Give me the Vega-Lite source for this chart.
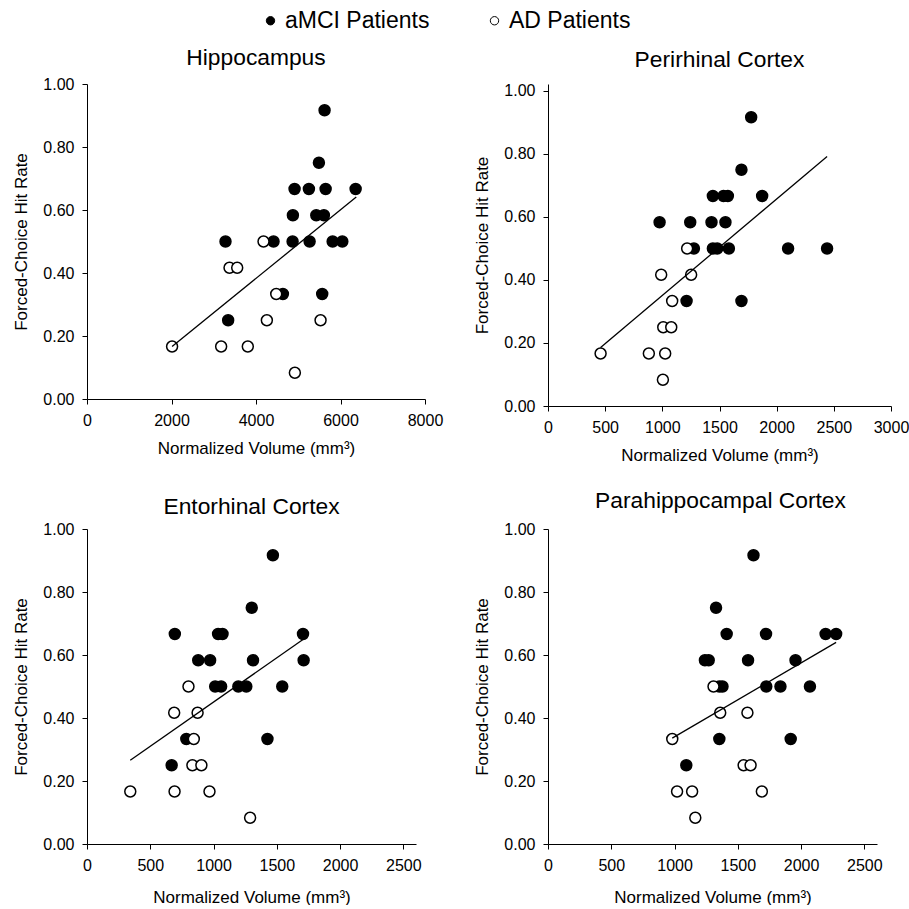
{
  "$schema": "https://vega.github.io/schema/vega-lite/v6.json",
  "background": "white",
  "padding": {"left": 12, "top": 9, "right": 5, "bottom": 0},
  "datasets": {
    "points": [
      {"region": "Hippocampus", "group": "aMCI Patients", "volume": 5623, "rate": 0.9167},
      {"region": "Hippocampus", "group": "aMCI Patients", "volume": 5489, "rate": 0.75},
      {"region": "Hippocampus", "group": "aMCI Patients", "volume": 4913, "rate": 0.6667},
      {"region": "Hippocampus", "group": "aMCI Patients", "volume": 5252, "rate": 0.6667},
      {"region": "Hippocampus", "group": "aMCI Patients", "volume": 5648, "rate": 0.6667},
      {"region": "Hippocampus", "group": "aMCI Patients", "volume": 6358, "rate": 0.6667},
      {"region": "Hippocampus", "group": "aMCI Patients", "volume": 4873, "rate": 0.5833},
      {"region": "Hippocampus", "group": "aMCI Patients", "volume": 5427, "rate": 0.5833},
      {"region": "Hippocampus", "group": "aMCI Patients", "volume": 5607, "rate": 0.5833},
      {"region": "Hippocampus", "group": "aMCI Patients", "volume": 3278, "rate": 0.5},
      {"region": "Hippocampus", "group": "aMCI Patients", "volume": 4415, "rate": 0.5},
      {"region": "Hippocampus", "group": "aMCI Patients", "volume": 4866, "rate": 0.5},
      {"region": "Hippocampus", "group": "aMCI Patients", "volume": 5269, "rate": 0.5},
      {"region": "Hippocampus", "group": "aMCI Patients", "volume": 5814, "rate": 0.5},
      {"region": "Hippocampus", "group": "aMCI Patients", "volume": 6043, "rate": 0.5},
      {"region": "Hippocampus", "group": "aMCI Patients", "volume": 4636, "rate": 0.3333},
      {"region": "Hippocampus", "group": "aMCI Patients", "volume": 5567, "rate": 0.3333},
      {"region": "Hippocampus", "group": "aMCI Patients", "volume": 3341, "rate": 0.25},
      {"region": "Hippocampus", "group": "AD Patients", "volume": 4178, "rate": 0.5},
      {"region": "Hippocampus", "group": "AD Patients", "volume": 3373, "rate": 0.4167},
      {"region": "Hippocampus", "group": "AD Patients", "volume": 3555, "rate": 0.4167},
      {"region": "Hippocampus", "group": "AD Patients", "volume": 4479, "rate": 0.3333},
      {"region": "Hippocampus", "group": "AD Patients", "volume": 4257, "rate": 0.25},
      {"region": "Hippocampus", "group": "AD Patients", "volume": 5528, "rate": 0.25},
      {"region": "Hippocampus", "group": "AD Patients", "volume": 2014, "rate": 0.1667},
      {"region": "Hippocampus", "group": "AD Patients", "volume": 3175, "rate": 0.1667},
      {"region": "Hippocampus", "group": "AD Patients", "volume": 3806, "rate": 0.1667},
      {"region": "Hippocampus", "group": "AD Patients", "volume": 4920, "rate": 0.0833},

      {"region": "Perirhinal", "group": "aMCI Patients", "volume": 1777, "rate": 0.9167},
      {"region": "Perirhinal", "group": "aMCI Patients", "volume": 1692, "rate": 0.75},
      {"region": "Perirhinal", "group": "aMCI Patients", "volume": 1442, "rate": 0.6667},
      {"region": "Perirhinal", "group": "aMCI Patients", "volume": 1535, "rate": 0.6667},
      {"region": "Perirhinal", "group": "aMCI Patients", "volume": 1573, "rate": 0.6667},
      {"region": "Perirhinal", "group": "aMCI Patients", "volume": 1873, "rate": 0.6667},
      {"region": "Perirhinal", "group": "aMCI Patients", "volume": 976, "rate": 0.5833},
      {"region": "Perirhinal", "group": "aMCI Patients", "volume": 1244, "rate": 0.5833},
      {"region": "Perirhinal", "group": "aMCI Patients", "volume": 1430, "rate": 0.5833},
      {"region": "Perirhinal", "group": "aMCI Patients", "volume": 1552, "rate": 0.5833},
      {"region": "Perirhinal", "group": "aMCI Patients", "volume": 1276, "rate": 0.5},
      {"region": "Perirhinal", "group": "aMCI Patients", "volume": 1442, "rate": 0.5},
      {"region": "Perirhinal", "group": "aMCI Patients", "volume": 1480, "rate": 0.5},
      {"region": "Perirhinal", "group": "aMCI Patients", "volume": 1582, "rate": 0.5},
      {"region": "Perirhinal", "group": "aMCI Patients", "volume": 2100, "rate": 0.5},
      {"region": "Perirhinal", "group": "aMCI Patients", "volume": 2441, "rate": 0.5},
      {"region": "Perirhinal", "group": "aMCI Patients", "volume": 1212, "rate": 0.3333},
      {"region": "Perirhinal", "group": "aMCI Patients", "volume": 1692, "rate": 0.3333},
      {"region": "Perirhinal", "group": "AD Patients", "volume": 1217, "rate": 0.5},
      {"region": "Perirhinal", "group": "AD Patients", "volume": 990, "rate": 0.4167},
      {"region": "Perirhinal", "group": "AD Patients", "volume": 1252, "rate": 0.4167},
      {"region": "Perirhinal", "group": "AD Patients", "volume": 1086, "rate": 0.3333},
      {"region": "Perirhinal", "group": "AD Patients", "volume": 1008, "rate": 0.25},
      {"region": "Perirhinal", "group": "AD Patients", "volume": 1078, "rate": 0.25},
      {"region": "Perirhinal", "group": "AD Patients", "volume": 460, "rate": 0.1667},
      {"region": "Perirhinal", "group": "AD Patients", "volume": 882, "rate": 0.1667},
      {"region": "Perirhinal", "group": "AD Patients", "volume": 1025, "rate": 0.1667},
      {"region": "Perirhinal", "group": "AD Patients", "volume": 1005, "rate": 0.0833},

      {"region": "Entorhinal", "group": "aMCI Patients", "volume": 1469, "rate": 0.9167},
      {"region": "Entorhinal", "group": "aMCI Patients", "volume": 1302, "rate": 0.75},
      {"region": "Entorhinal", "group": "aMCI Patients", "volume": 694, "rate": 0.6667},
      {"region": "Entorhinal", "group": "aMCI Patients", "volume": 1036, "rate": 0.6667},
      {"region": "Entorhinal", "group": "aMCI Patients", "volume": 1071, "rate": 0.6667},
      {"region": "Entorhinal", "group": "aMCI Patients", "volume": 1707, "rate": 0.6667},
      {"region": "Entorhinal", "group": "aMCI Patients", "volume": 879, "rate": 0.5833},
      {"region": "Entorhinal", "group": "aMCI Patients", "volume": 973, "rate": 0.5833},
      {"region": "Entorhinal", "group": "aMCI Patients", "volume": 1312, "rate": 0.5833},
      {"region": "Entorhinal", "group": "aMCI Patients", "volume": 1712, "rate": 0.5833},
      {"region": "Entorhinal", "group": "aMCI Patients", "volume": 1013, "rate": 0.5},
      {"region": "Entorhinal", "group": "aMCI Patients", "volume": 1060, "rate": 0.5},
      {"region": "Entorhinal", "group": "aMCI Patients", "volume": 1196, "rate": 0.5},
      {"region": "Entorhinal", "group": "aMCI Patients", "volume": 1259, "rate": 0.5},
      {"region": "Entorhinal", "group": "aMCI Patients", "volume": 1543, "rate": 0.5},
      {"region": "Entorhinal", "group": "aMCI Patients", "volume": 785, "rate": 0.3333},
      {"region": "Entorhinal", "group": "aMCI Patients", "volume": 1426, "rate": 0.3333},
      {"region": "Entorhinal", "group": "aMCI Patients", "volume": 669, "rate": 0.25},
      {"region": "Entorhinal", "group": "AD Patients", "volume": 802, "rate": 0.5},
      {"region": "Entorhinal", "group": "AD Patients", "volume": 689, "rate": 0.4167},
      {"region": "Entorhinal", "group": "AD Patients", "volume": 874, "rate": 0.4167},
      {"region": "Entorhinal", "group": "AD Patients", "volume": 844, "rate": 0.3333},
      {"region": "Entorhinal", "group": "AD Patients", "volume": 833, "rate": 0.25},
      {"region": "Entorhinal", "group": "AD Patients", "volume": 904, "rate": 0.25},
      {"region": "Entorhinal", "group": "AD Patients", "volume": 342, "rate": 0.1667},
      {"region": "Entorhinal", "group": "AD Patients", "volume": 692, "rate": 0.1667},
      {"region": "Entorhinal", "group": "AD Patients", "volume": 968, "rate": 0.1667},
      {"region": "Entorhinal", "group": "AD Patients", "volume": 1289, "rate": 0.0833},

      {"region": "Parahippocampal", "group": "aMCI Patients", "volume": 1624, "rate": 0.9167},
      {"region": "Parahippocampal", "group": "aMCI Patients", "volume": 1328, "rate": 0.75},
      {"region": "Parahippocampal", "group": "aMCI Patients", "volume": 1412, "rate": 0.6667},
      {"region": "Parahippocampal", "group": "aMCI Patients", "volume": 1723, "rate": 0.6667},
      {"region": "Parahippocampal", "group": "aMCI Patients", "volume": 2194, "rate": 0.6667},
      {"region": "Parahippocampal", "group": "aMCI Patients", "volume": 2277, "rate": 0.6667},
      {"region": "Parahippocampal", "group": "aMCI Patients", "volume": 1240, "rate": 0.5833},
      {"region": "Parahippocampal", "group": "aMCI Patients", "volume": 1270, "rate": 0.5833},
      {"region": "Parahippocampal", "group": "aMCI Patients", "volume": 1581, "rate": 0.5833},
      {"region": "Parahippocampal", "group": "aMCI Patients", "volume": 1956, "rate": 0.5833},
      {"region": "Parahippocampal", "group": "aMCI Patients", "volume": 1354, "rate": 0.5},
      {"region": "Parahippocampal", "group": "aMCI Patients", "volume": 1379, "rate": 0.5},
      {"region": "Parahippocampal", "group": "aMCI Patients", "volume": 1725, "rate": 0.5},
      {"region": "Parahippocampal", "group": "aMCI Patients", "volume": 1837, "rate": 0.5},
      {"region": "Parahippocampal", "group": "aMCI Patients", "volume": 2070, "rate": 0.5},
      {"region": "Parahippocampal", "group": "aMCI Patients", "volume": 1354, "rate": 0.3333},
      {"region": "Parahippocampal", "group": "aMCI Patients", "volume": 1918, "rate": 0.3333},
      {"region": "Parahippocampal", "group": "aMCI Patients", "volume": 1093, "rate": 0.25},
      {"region": "Parahippocampal", "group": "AD Patients", "volume": 1308, "rate": 0.5},
      {"region": "Parahippocampal", "group": "AD Patients", "volume": 1361, "rate": 0.4167},
      {"region": "Parahippocampal", "group": "AD Patients", "volume": 1576, "rate": 0.4167},
      {"region": "Parahippocampal", "group": "AD Patients", "volume": 982, "rate": 0.3333},
      {"region": "Parahippocampal", "group": "AD Patients", "volume": 1546, "rate": 0.25},
      {"region": "Parahippocampal", "group": "AD Patients", "volume": 1601, "rate": 0.25},
      {"region": "Parahippocampal", "group": "AD Patients", "volume": 1020, "rate": 0.1667},
      {"region": "Parahippocampal", "group": "AD Patients", "volume": 1139, "rate": 0.1667},
      {"region": "Parahippocampal", "group": "AD Patients", "volume": 1690, "rate": 0.1667},
      {"region": "Parahippocampal", "group": "AD Patients", "volume": 1164, "rate": 0.0833}
    ],
    "fits": [
      {"region": "Hippocampus", "volume": 2014, "rate": 0.167},
      {"region": "Hippocampus", "volume": 6373, "rate": 0.641},
      {"region": "Perirhinal", "volume": 460, "rate": 0.186},
      {"region": "Perirhinal", "volume": 2441, "rate": 0.792},
      {"region": "Entorhinal", "volume": 342, "rate": 0.266},
      {"region": "Entorhinal", "volume": 1707, "rate": 0.649},
      {"region": "Parahippocampal", "volume": 982, "rate": 0.336},
      {"region": "Parahippocampal", "volume": 2277, "rate": 0.64}
    ]
  },
  "config": {
    "view": {"stroke": null},
    "font": "Liberation Sans",
    "axis": {
      "grid": false,
      "domainColor": "black",
      "tickColor": "black",
      "labelColor": "black",
      "titleColor": "black",
      "labelFont": "Liberation Sans",
      "titleFont": "Liberation Sans",
      "labelFontSize": 16,
      "titleFontSize": 17,
      "titleFontWeight": "normal",
      "tickSize": 5,
      "labelPadding": 8,
      "labelFlush": false,
      "labelOverlap": false
    },
    "axisX": {"titlePadding": 12},
    "axisY": {"titlePadding": 12},
    "title": {"font": "Liberation Sans", "fontSize": 22.8, "fontWeight": "normal", "color": "black", "anchor": "middle", "baseline": "alphabetic"},
    "legend": {
      "orient": "none",
      "legendX": 172,
      "legendY": -75,
      "direction": "horizontal",
      "title": null,
      "labelFont": "Liberation Sans",
      "labelFontSize": 23,
      "labelColor": "black",
      "symbolType": "circle",
      "symbolSize": 70,
      "symbolStrokeColor": "black",
      "symbolStrokeWidth": 1,
      "labelOffset": 3,
      "columnPadding": 53
    }
  },
  "spacing": 27,
  "vconcat": [
    {
      "spacing": 30,
      "hconcat": [
        {
          "width": 338, "height": 315,
          "title": {"text": "Hippocampus", "offset": 6},
          "layer": [
            {
              "data": {"name": "points"},
              "transform": [{"filter": "datum.region === 'Hippocampus'"}],
              "mark": {"type": "circle", "size": 120, "stroke": "black", "strokeWidth": 1.5, "opacity": 1},
              "encoding": {
                "x": {"field": "volume", "type": "quantitative", "scale": {"domain": [0, 8000]}, "axis": {"values": [0, 2000, 4000, 6000, 8000], "format": "d", "title": "Normalized Volume (mm³)"}},
                "y": {"field": "rate", "type": "quantitative", "scale": {"domain": [0, 1]}, "axis": {"values": [0, 0.2, 0.4, 0.6, 0.8, 1], "format": ".2f", "title": "Forced-Choice Hit Rate"}},
                "fill": {"field": "group", "type": "nominal", "scale": {"domain": ["aMCI Patients", "AD Patients"], "range": ["black", "white"]}}
              }
            },
            {
              "data": {"name": "fits"},
              "transform": [{"filter": "datum.region === 'Hippocampus'"}],
              "mark": {"type": "line", "color": "black", "strokeWidth": 1.3},
              "encoding": {
                "x": {"field": "volume", "type": "quantitative"},
                "y": {"field": "rate", "type": "quantitative"}
              }
            }
          ]
        },
        {
          "width": 343, "height": 322,
          "title": {"text": "Perirhinal Cortex", "offset": 11},
          "layer": [
            {
              "data": {"name": "points"},
              "transform": [{"filter": "datum.region === 'Perirhinal'"}],
              "mark": {"type": "circle", "size": 120, "stroke": "black", "strokeWidth": 1.5, "opacity": 1},
              "encoding": {
                "x": {"field": "volume", "type": "quantitative", "scale": {"domain": [0, 3000]}, "axis": {"values": [0, 500, 1000, 1500, 2000, 2500, 3000], "format": "d", "title": "Normalized Volume (mm³)"}},
                "y": {"field": "rate", "type": "quantitative", "scale": {"domain": [0, 1.02222], "nice": false}, "axis": {"values": [0, 0.2, 0.4, 0.6, 0.8, 1], "format": ".2f", "title": "Forced-Choice Hit Rate"}},
                "fill": {"field": "group", "type": "nominal", "scale": {"domain": ["aMCI Patients", "AD Patients"], "range": ["black", "white"]}}
              }
            },
            {
              "data": {"name": "fits"},
              "transform": [{"filter": "datum.region === 'Perirhinal'"}],
              "mark": {"type": "line", "color": "black", "strokeWidth": 1.3},
              "encoding": {
                "x": {"field": "volume", "type": "quantitative"},
                "y": {"field": "rate", "type": "quantitative"}
              }
            }
          ]
        }
      ]
    },
    {
      "spacing": 51,
      "hconcat": [
        {
          "width": 329, "height": 315,
          "title": {"text": "Entorhinal Cortex", "offset": 2},
          "layer": [
            {
              "data": {"name": "points"},
              "transform": [{"filter": "datum.region === 'Entorhinal'"}],
              "mark": {"type": "circle", "size": 120, "stroke": "black", "strokeWidth": 1.5, "opacity": 1},
              "encoding": {
                "x": {"field": "volume", "type": "quantitative", "scale": {"domain": [0, 2500]}, "axis": {"values": [0, 500, 1000, 1500, 2000, 2500], "format": "d", "title": "Normalized Volume (mm³)", "titlePadding": 16}},
                "y": {"field": "rate", "type": "quantitative", "scale": {"domain": [0, 1]}, "axis": {"values": [0, 0.2, 0.4, 0.6, 0.8, 1], "format": ".2f", "title": "Forced-Choice Hit Rate"}},
                "fill": {"field": "group", "type": "nominal", "scale": {"domain": ["aMCI Patients", "AD Patients"], "range": ["black", "white"]}}
              }
            },
            {
              "data": {"name": "fits"},
              "transform": [{"filter": "datum.region === 'Entorhinal'"}],
              "mark": {"type": "line", "color": "black", "strokeWidth": 1.3},
              "encoding": {
                "x": {"field": "volume", "type": "quantitative"},
                "y": {"field": "rate", "type": "quantitative"}
              }
            }
          ]
        },
        {
          "width": 329, "height": 315,
          "title": {"text": "Parahippocampal Cortex", "offset": 8, "dx": 8},
          "layer": [
            {
              "data": {"name": "points"},
              "transform": [{"filter": "datum.region === 'Parahippocampal'"}],
              "mark": {"type": "circle", "size": 120, "stroke": "black", "strokeWidth": 1.5, "opacity": 1},
              "encoding": {
                "x": {"field": "volume", "type": "quantitative", "scale": {"domain": [0, 2500]}, "axis": {"values": [0, 500, 1000, 1500, 2000, 2500], "format": "d", "title": "Normalized Volume (mm³)", "titlePadding": 16}},
                "y": {"field": "rate", "type": "quantitative", "scale": {"domain": [0, 1]}, "axis": {"values": [0, 0.2, 0.4, 0.6, 0.8, 1], "format": ".2f", "title": "Forced-Choice Hit Rate"}},
                "fill": {"field": "group", "type": "nominal", "scale": {"domain": ["aMCI Patients", "AD Patients"], "range": ["black", "white"]}}
              }
            },
            {
              "data": {"name": "fits"},
              "transform": [{"filter": "datum.region === 'Parahippocampal'"}],
              "mark": {"type": "line", "color": "black", "strokeWidth": 1.3},
              "encoding": {
                "x": {"field": "volume", "type": "quantitative"},
                "y": {"field": "rate", "type": "quantitative"}
              }
            }
          ]
        }
      ]
    }
  ]
}
